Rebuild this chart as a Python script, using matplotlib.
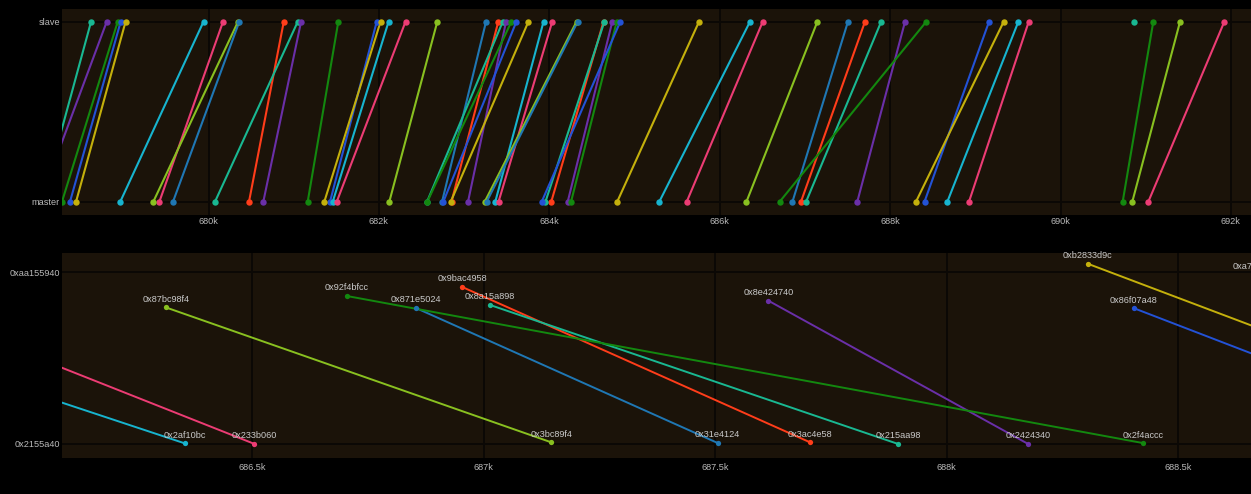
import numpy as np
import matplotlib
matplotlib.use("Agg")
import matplotlib.pyplot as plt
from matplotlib.ticker import FuncFormatter, FixedLocator

plt.rcParams['font.family'] = ['Liberation Sans', 'DejaVu Sans']

# ---------------- data ----------------
palette = {
    'steel': '#1f77b4', 'red': '#ff3d1a', 'teal': '#19b892', 'purple': '#6a2fa8',
    'green': '#13880f', 'blue': '#2352d6', 'yellow': '#c4b00c', 'cyan': '#17b4cf',
    'pink': '#ec3c74', 'yg': '#89c020',
}

pair_colors = ['teal', 'purple', 'green', 'blue', 'yellow', 'cyan', 'pink', 'yg', 'steel', 'red',
               'teal', 'purple', 'green', 'blue', 'yellow', 'cyan', 'pink', 'yg', 'steel', 'red',
               'teal', 'purple', 'green', 'blue', 'yellow', 'cyan', 'pink', 'yg', 'steel', 'red',
               'teal', 'purple', 'green', 'blue', 'yellow', 'cyan', 'pink', 'yg', 'steel', 'red',
               'teal', 'purple', 'green', 'blue', 'yellow', 'cyan', 'pink',
               'teal', 'green', 'yg', 'pink']

master_time = [678046, 678019, 678280, 678374, 678445, 678964, 679423, 679352, 679583, 680475,
               680076, 680643, 681164, 681426, 681359, 681458, 681505, 682122, 682741, 682852,
               682565, 683046, 682568, 682756, 682843, 683366, 683404, 683242, 683265, 684023,
               683955, 684216, 684255, 683911, 684797, 685291, 685613, 686314, 686854, 686954,
               687014, 687615, 686704, 688404, 688304, 688672, 688926,
               None, 690730, 690843, 691031]

slave_time = [678621, 678805, 678934, 678969, 679026, 679941, 680170, 680346, 680361, 680883,
              681047, 681086, 681523, 681974, 682019, 682113, 682312, 682685, 683257, 683401,
              683453, 683492, 683554, 683613, 683754, 683932, 684034, 684319, 684333, 684636,
              684646, 684739, 684791, 684833, 685757, 686355, 686505, 687146, 687505, 687705,
              687895, 688175, 688424, 689161, 689333, 689505, 689627,
              690866, 691089, 691403, 691923]

top_categories = ['master', 'slave']
top_xticks = [680000, 682000, 684000, 686000, 688000, 690000, 692000]

# zoomed view: address of each transfer at master and slave side
zoom_pairs = [35, 36, 37, 38, 39, 40, 41, 42, 43, 44, 45]
addr_master = [0xa2af10bc, 0xa233b060, 0x87bc98f4, 0x871e5024, 0x9bac4958, 0x8a15a898,
               0x8e424740, 0x92f4bfcc, 0x86f07a48, 0xb2833d9c, 0xa7b5c2e0]
addr_slave = [0x2af10bc, 0x233b060, 0x3bc89f4, 0x31e4124, 0x3ac4e58, 0x215aa98,
              0x2424340, 0x2f4accc, 0x2f07a48, 0x2833d9c, 0x3b5c2e0]
bottom_xticks = [686500, 687000, 687500, 688000, 688500]
bottom_yticks = [0x2155a40, 0xaa155940]

# ---------------- style ----------------
W, H = 1251, 494
BG = '#000000'
PANEL = '#1b1309'
GRID = '#0b0805'
TXT = '#b9b9b9'
LBL = '#c9c9c9'
FS = 6.6

fig = plt.figure(figsize=(W / 100, H / 100), dpi=100, facecolor=BG)

def px_axes(x0, y0, x1, y1):
    return fig.add_axes([x0 / W, 1 - y1 / H, (x1 - x0) / W, (y1 - y0) / H])

def kfmt(v, pos):
    return f"{v / 1000:g}k"

# ---------------- top chart ----------------
ax1 = px_axes(62, 9, W, 215)
ax1.set_facecolor(PANEL)
for m, s, cn in zip(master_time, slave_time, pair_colors):
    c = palette[cn]
    if m is None:
        ax1.plot([s], [1], 'o', color=c, ms=4.6, mew=0, zorder=3)
    else:
        ax1.plot([m, s], [0, 1], '-', color=c, lw=1.5, zorder=2, solid_capstyle='round')
        ax1.plot([m, s], [0, 1], 'o', color=c, ms=4.6, mew=0, zorder=3)
ax1.set_xlim(678280, 692236)
ax1.set_ylim(-0.074, 1.0706)
ax1.xaxis.set_major_locator(FixedLocator(top_xticks))
ax1.xaxis.set_major_formatter(FuncFormatter(kfmt))
ax1.set_yticks([0, 1])
ax1.set_yticklabels(top_categories)
ax1.grid(True, color=GRID, lw=1.4, zorder=0)
ax1.set_axisbelow(True)
ax1.tick_params(length=0, colors=TXT, labelsize=FS)
ax1.tick_params(axis='x', pad=1.5)
ax1.tick_params(axis='y', pad=1.5)
for sp in ax1.spines.values():
    sp.set_visible(False)

# ---------------- bottom chart ----------------
ax2 = px_axes(62, 252.7, W, 457.7)
ax2.set_facecolor(PANEL)
x_lo, x_hi = 686089.8, 688656.7
label_margin = 60  # data units beyond the edge where a label may still peek in
for i, hi, lo in zip(zoom_pairs, addr_master, addr_slave):
    c = palette[pair_colors[i]]
    xs = [master_time[i], slave_time[i]]
    ys = [hi, lo]
    ax2.plot(xs, ys, '-', color=c, lw=1.4, zorder=2)
    ax2.plot(xs, ys, 'o', color=c, ms=3.8, mew=0, zorder=3)
    for x, y in zip(xs, ys):
        if x < x_lo - label_margin or x > x_hi + label_margin:
            continue
        t = ax2.annotate(hex(y), (x, y), xytext=(0, 5.8), textcoords='offset points',
                         ha='center', va='center', fontsize=FS, color=LBL, zorder=4,
                         annotation_clip=False)
        t.set_clip_on(True)
ax2.set_xlim(x_lo, x_hi)
ax2.set_ylim(-190e6, 3175.3e6)
ax2.xaxis.set_major_locator(FixedLocator(bottom_xticks))
ax2.xaxis.set_major_formatter(FuncFormatter(kfmt))
ax2.yaxis.set_major_locator(FixedLocator(bottom_yticks))
ax2.yaxis.set_major_formatter(FuncFormatter(lambda v, p: hex(int(round(v)))))
ax2.grid(True, color=GRID, lw=1.4, zorder=0)
ax2.set_axisbelow(True)
ax2.tick_params(length=0, colors=TXT, labelsize=FS)
ax2.tick_params(axis='x', pad=3.5)
ax2.tick_params(axis='y', pad=1.5)
for sp in ax2.spines.values():
    sp.set_visible(False)

fig.savefig('out.png', dpi=100, facecolor=BG)
